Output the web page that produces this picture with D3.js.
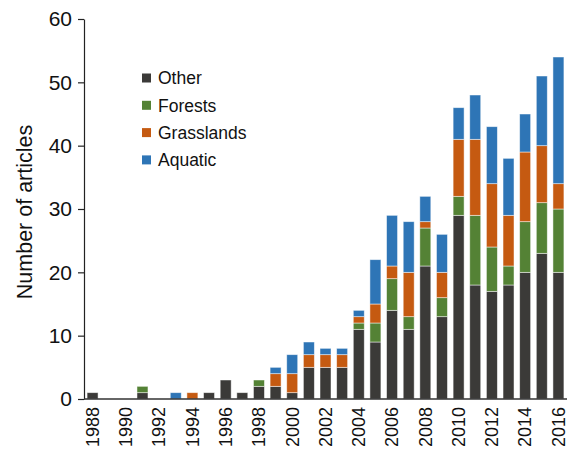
<!DOCTYPE html>
<html>
<head>
<meta charset="utf-8">
<script src="https://cdn.jsdelivr.net/npm/d3@7"></script>
<style>
  body { margin: 0; background: #fff; }
  text { font-family: "Liberation Sans", Arial, sans-serif; fill: #111; }
</style>
</head>
<body>
<script>
	// 数据
	var years = d3.range(1988, 2017)
	var other      = [1,0,0,1,0,0,0,1,3,1,2,2,1,5,5,5,11,9,14,11,21,13,29,18,17,18,20,23,20]
	var forests    = [0,0,0,1,0,0,0,0,0,0,1,0,0,0,0,0,1,3,5,2,6,3,3,11,7,3,8,8,10]
	var grasslands = [0,0,0,0,0,0,1,0,0,0,0,2,3,2,2,2,1,3,2,7,1,4,9,12,10,8,11,9,4]
	var aquatic    = [0,0,0,0,0,1,0,0,0,0,0,1,3,2,1,1,1,7,8,8,4,6,5,7,9,9,6,11,20]
	var seriesNames = ['Other', 'Forests', 'Grasslands', 'Aquatic']
	var colors = ['#3b3a38', '#548235', '#c55a11', '#2e75b6']
	var yTicks = [0, 10, 20, 30, 40, 50, 60]
	var xLabels = years.filter(function(y){ return y % 2 === 0 })

	var width = 575, height = 453
	var plotL = 84, plotR = 567, plotT = 19, plotB = 399

	var svg = d3.select("body").append("svg")
		.attr("width", width)
		.attr("height", height)

	var rows = years.map(function(y, i) {
		return { year: y, Other: other[i], Forests: forests[i], Grasslands: grasslands[i], Aquatic: aquatic[i] }
	})
	var stacked = d3.stack().keys(seriesNames)(rows)

	var x = d3.scaleBand()
		.domain(years)
		.range([plotL, plotR])
		.paddingInner(0.34)
		.paddingOuter(0.185)
	var y = d3.scaleLinear().domain([0, 60]).range([plotB, plotT])

	// 柱子
	svg.selectAll('g.series')
		.data(stacked)
		.enter()
		.append('g')
		.attr('class', 'series')
		.attr('fill', function(d, i){ return colors[i] })
		.selectAll('rect')
		.data(function(d){ return d.filter(function(p){ return p[1] > p[0] }) })
		.enter()
		.append('rect')
		.attr('x', function(d){ return x(d.data.year) })
		.attr('width', x.bandwidth())
		.attr('y', function(d){ return y(d[1]) })
		.attr('height', function(d){ return y(d[0]) - y(d[1]) })
		.attr('stroke', '#fff')
		.attr('stroke-opacity', 0.6)
		.attr('stroke-width', 0.8)

	// y轴
	var yAxis = svg.append('g')
		.attr('transform', 'translate(' + plotL + ',0)')
		.call(d3.axisLeft(y).tickValues(yTicks).tickSize(6).tickPadding(6).tickSizeOuter(0))
	yAxis.selectAll('text').style('font-size', '21px').attr('fill', '#111')
	yAxis.selectAll('line, path').attr('stroke', '#222').attr('stroke-width', 1.2)

	// x轴
	var xAxis = svg.append('g')
		.attr('transform', 'translate(0,' + plotB + ')')
		.call(d3.axisBottom(x).tickValues(xLabels).tickSize(0).tickSizeOuter(0))
	xAxis.select('path').attr('stroke', '#333').attr('stroke-width', 1.5)
		.attr('d', 'M' + plotL + ',0H' + plotR)
	xAxis.selectAll('text')
		.style('font-size', '18px')
		.attr('fill', '#111')
		.attr('transform', 'rotate(-90)')
		.attr('text-anchor', 'end')
		.attr('x', -8)
		.attr('y', 0)
		.attr('dy', '0.35em')

	// y轴标题
	svg.append('text')
		.attr('transform', 'translate(32,212) rotate(-90)')
		.attr('text-anchor', 'middle')
		.style('font-size', '21.5px')
		.text('Number of articles')

	// 图例
	var legend = svg.selectAll('g.legend')
		.data(seriesNames)
		.enter()
		.append('g')
		.attr('class', 'legend')
		.attr('transform', function(d, i){ return 'translate(142,' + (78 + i * 27.3) + ')' })
	legend.append('rect')
		.attr('x', 0)
		.attr('y', -4.5)
		.attr('width', 9)
		.attr('height', 9)
		.attr('fill', function(d, i){ return colors[i] })
	legend.append('text')
		.attr('x', 16)
		.attr('dy', '0.36em')
		.style('font-size', '17.5px')
		.text(function(d){ return d })
</script>
</body>
</html>
